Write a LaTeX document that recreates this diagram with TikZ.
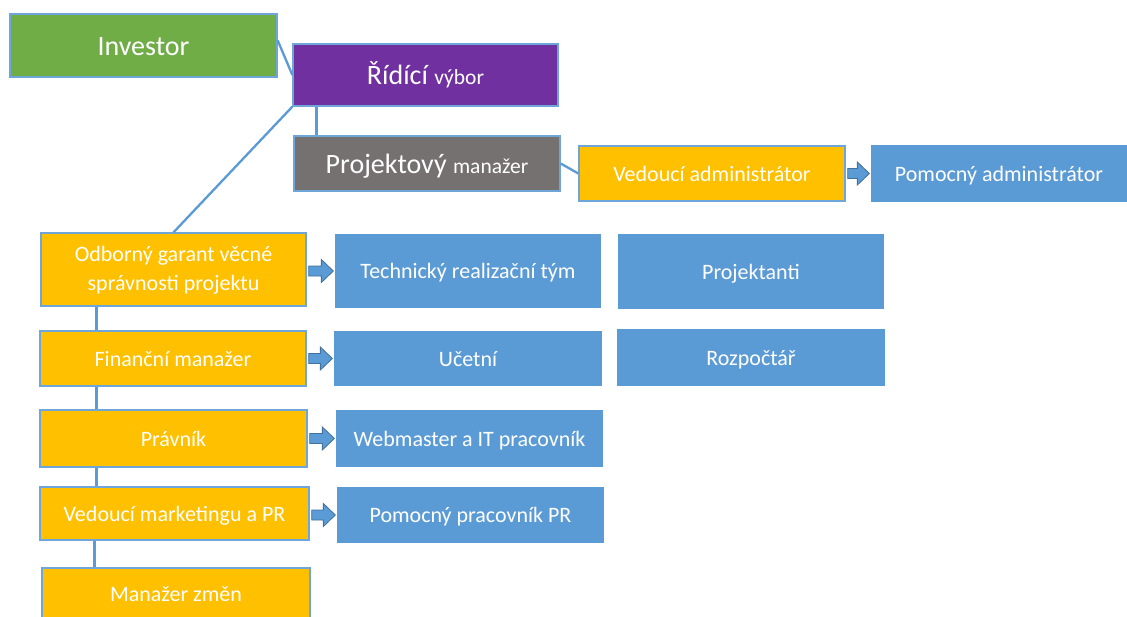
\documentclass[tikz,border=0pt]{standalone}
\usepackage{fontspec}
\setmainfont{Carlito}
\usetikzlibrary{calc}
\definecolor{cgreen}{HTML}{70AD47}
\definecolor{cpurple}{HTML}{7030A0}
\definecolor{cgray}{HTML}{767171}
\definecolor{corange}{HTML}{FFC000}
\definecolor{cblue}{HTML}{5B9BD5}
\definecolor{cborder}{HTML}{6FA6DA}
\definecolor{carrowb}{HTML}{41719C}
\newcommand{\bigtxt}{\fontsize{28}{32}\selectfont}
\newcommand{\smtxt}{\fontsize{21.5}{26}\selectfont}
\newcommand{\blockarr}[2]{%
  \path let \p1=(#1.east), \p2=(#2.west), \p3=(#2.center) in
    [arrowshape] (\x1+2pt,\y3+5pt) -- (\x2-13pt,\y3+5pt) -- (\x2-13pt,\y3+11.5pt)
    -- (\x2-1pt,\y3) -- (\x2-13pt,\y3-11.5pt) -- (\x2-13pt,\y3-5pt)
    -- (\x1+2pt,\y3-5pt) -- cycle;}
\tikzset{
  box/.style={draw=cborder, line width=1.3pt, text=white, inner sep=0pt,
    align=center, font=\fontsize{22}{28.5}\selectfont},
  one/.style={text height=15pt, text depth=0pt},
  conn/.style={draw=cblue, line width=2.3pt},
  arrowshape/.style={fill=cblue, draw=carrowb, line width=0.8pt, line join=miter},
}
\begin{document}
\begin{tikzpicture}[x=1pt,y=-1pt]
\useasboundingbox[fill=white] (0,0) rectangle (1127,616);
\node[box, one, fill=cgreen, minimum width=267pt, minimum height=63pt, text height=19pt] (inv) at (143.5,45.5) {\bigtxt Investor};
\node[box, one, fill=cpurple, minimum width=265pt, minimum height=62pt, text height=19pt] (rid) at (425.5,75) {\bigtxt Řídící {\smtxt výbor}};
\node[box, one, fill=cgray, minimum width=266pt, minimum height=55pt, text height=19pt] (pm) at (427,163.5) {\bigtxt Projektový {\smtxt manažer}};
\node[box, one, fill=corange, minimum width=266pt, minimum height=55pt] (va) at (712,173.5) {Vedoucí administrátor};
\node[box, one, fill=cblue, draw=none, minimum width=256pt, minimum height=57pt] (pa) at (999,173.5) {Pomocný administrátor};
\node[box, fill=corange, minimum width=265pt, minimum height=73pt] (og) at (173.5,269.5) {\rule{0pt}{17pt}Odborný garant věcné\\správnosti projektu};
\node[box, one, fill=cblue, draw=none, minimum width=266pt, minimum height=74pt] (trt) at (468,271) {Technický realizační tým};
\node[box, one, fill=cblue, draw=none, minimum width=266pt, minimum height=75pt] (proj) at (751,271.5) {Projektanti};
\node[box, one, fill=corange, minimum width=266pt, minimum height=55pt] (fm) at (173,358.5) {Finanční manažer};
\node[box, one, fill=cblue, draw=none, minimum width=268pt, minimum height=55pt] (uc) at (468,358.5) {Učetní};
\node[box, one, fill=cblue, draw=none, minimum width=268pt, minimum height=57pt] (roz) at (751,357.5) {Rozpočtář};
\node[box, one, fill=corange, minimum width=267pt, minimum height=57pt] (pr) at (173.5,438.5) {Právník};
\node[box, one, fill=cblue, draw=none, minimum width=267pt, minimum height=57pt] (web) at (469.5,438.5) {Webmaster a IT pracovník};
\node[box, one, fill=corange, minimum width=269pt, minimum height=53pt] (mk) at (174.5,513.5) {Vedoucí marketingu a PR};
\node[box, one, fill=cblue, draw=none, minimum width=267pt, minimum height=56pt] (ppr) at (470.5,515) {Pomocný pracovník PR};
\node[box, one, fill=corange, minimum width=268pt, minimum height=52pt] (mz) at (176,594) {Manažer změn};
% lines
\draw[conn] ($(inv.north east)!0.42!(inv.south east)$) -- ($(rid.north west)!0.5!(rid.south west)$);
\draw[conn] (rid.south west) -- (og.north);
\draw[conn] ($(rid.south west)+(24,0)$) -- ($(pm.north west)+(23,0)$);
\draw[conn] (pm.east) -- (va.west);
\draw[conn] ($(og.south west)+(56,0)$) -- ($(fm.north west)+(57,0)$);
\draw[conn] ($(fm.south west)+(57,0)$) -- ($(pr.north west)+(57,0)$);
\draw[conn] ($(pr.south west)+(57,0)$) -- ($(mk.north west)+(57,0)$);
\draw[conn] ($(mk.south west)+(55,0)$) -- ($(mz.north west)+(53,0)$);
% block arrows
\blockarr{va}{pa}
\blockarr{og}{trt}
\blockarr{fm}{uc}
\blockarr{pr}{web}
\blockarr{mk}{ppr}
\end{tikzpicture}
\end{document}
